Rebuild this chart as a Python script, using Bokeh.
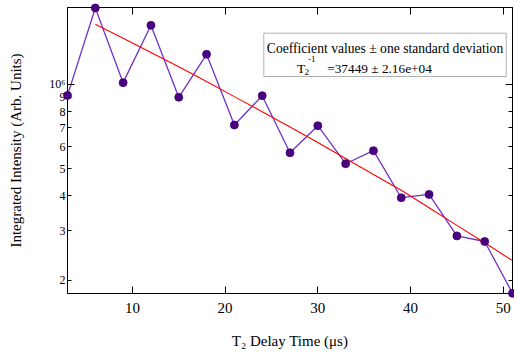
import math
from bokeh.plotting import figure
from bokeh.models import (FixedTicker, LogAxis, LinearAxis, Label, BoxAnnotation,
                          ColumnDataSource, Range1d)
from bokeh.embed import file_html
from bokeh.resources import INLINE

# ---------------- data ----------------
delay_us = [3, 6, 9, 12, 15, 18, 21, 24, 27, 30, 33, 36, 39, 42, 45, 48, 51]
intensity = [9.13e5, 1.873e6, 1.014e6, 1.624e6, 8.99e5, 1.280e6, 7.16e5, 9.11e5,
             5.70e5, 7.12e5, 5.21e5, 5.80e5, 3.94e5, 4.05e5, 2.88e5, 2.75e5, 1.797e5]

fit_us = [6, 9, 12, 15, 18, 21, 24, 27, 30, 33, 36, 39, 42, 45, 48, 51]
fit_intensity = [1.638e6, 1.460e6, 1.298e6, 1.155e6, 1.023e6, 9.04e5, 7.99e5, 7.05e5,
                 6.20e5, 5.44e5, 4.77e5, 4.19e5, 3.63e5, 3.14e5, 2.72e5, 2.35e5]

x_ticks = [10, 20, 30, 40, 50]
y_ticks = [2e5, 3e5, 4e5, 5e5, 6e5, 7e5, 8e5, 9e5, 1e6]
y_tick_labels = ["2", "3", "4", "5", "6", "7", "8", "9", "10\u2076"]
y_decade_ticks = [1e6]

legend_title = "Coefficient values \u00b1 one standard deviation"
legend_value = "=37449 \u00b1 2.16e+04"

FONT = "Liberation Serif"

# ---------------- figure ----------------
X0, X1 = 3, 51
Y0, Y1 = 1.794e5, 1.88e6
p = figure(width=514, height=354, y_axis_type="log",
           x_range=Range1d(X0, X1), y_range=Range1d(Y0, Y1),
           output_backend="svg", toolbar_location=None,
           min_border_left=67, min_border_right=2,
           min_border_top=7, min_border_bottom=61)
p.background_fill_color = "white"
p.border_fill_color = "white"
p.outline_line_color = "black"
p.outline_line_width = 1
p.grid.visible = False

# frame geometry (pixels) used to place annotations inside the frame
FL, FR, FT, FB = 67, 512, 7, 293
def px2x(px):
    return X0 + (px - FL) / (FR - FL) * (X1 - X0)
def py2y(py):
    ly0, ly1 = math.log10(Y0), math.log10(Y1)
    return 10 ** (ly1 - (py - FT) / (FB - FT) * (ly1 - ly0))

# bottom axis
xa = p.xaxis[0]
xa.ticker = FixedTicker(ticks=x_ticks)
xa.major_tick_in = 7
xa.major_tick_out = 0
xa.minor_tick_line_color = None
xa.axis_line_color = "black"
xa.major_tick_line_color = "black"
xa.major_label_text_font = FONT
xa.major_label_text_font_size = "15px"
xa.major_label_text_color = "black"
xa.major_label_standoff = 9
xa.axis_label = "T\u2082 Delay Time (\u03bcs)"
xa.axis_label_text_font = FONT
xa.axis_label_text_font_style = "normal"
xa.axis_label_text_font_size = "15px"
xa.axis_label_text_color = "black"
xa.axis_label_standoff = 17

# left axis
ya = p.yaxis[0]
ya.ticker = FixedTicker(ticks=y_ticks, minor_ticks=y_decade_ticks)
ya.major_label_overrides = {t: s for t, s in zip(y_ticks, y_tick_labels)}
ya.major_tick_in = 4
ya.major_tick_out = 0
ya.minor_tick_in = 7
ya.minor_tick_out = 0
ya.minor_tick_line_color = "black"
ya.major_tick_line_color = "black"
ya.axis_line_color = "black"
ya.major_label_text_font = FONT
ya.major_label_text_font_size = "12px"
ya.major_label_text_color = "black"
ya.major_label_standoff = 2
ya.axis_label = "Integrated Intensity (Arb. Units)"
ya.axis_label_text_font = FONT
ya.axis_label_text_font_style = "normal"
ya.axis_label_text_font_size = "15px"
ya.axis_label_text_color = "black"
ya.axis_label_standoff = 22

# mirrored right and top axes (ticks only, empty labels)
ra = LogAxis(ticker=FixedTicker(ticks=y_ticks, minor_ticks=y_decade_ticks))
ra.major_label_overrides = {t: "" for t in y_ticks}
ra.major_tick_in = 4
ra.major_tick_out = 0
ra.minor_tick_in = 7
ra.minor_tick_out = 0
ra.major_label_standoff = 0
ra.axis_line_color = "black"
p.add_layout(ra, "right")

ta = LinearAxis(ticker=FixedTicker(ticks=x_ticks))
ta.major_label_overrides = {t: "" for t in x_ticks}
ta.major_tick_in = 7
ta.major_tick_out = 0
ta.minor_tick_line_color = None
ta.major_label_standoff = 0
ta.axis_line_color = "black"
p.add_layout(ta, "above")

# ---------------- data marks ----------------
src = ColumnDataSource(dict(x=delay_us, y=intensity))
fit_src = ColumnDataSource(dict(x=fit_us, y=fit_intensity))
p.line("x", "y", source=src, line_color="#6E33C4", line_width=1.3)
p.scatter("x", "y", source=src, size=8, fill_color="#4B0082", line_color="#3F0070",
          line_width=0.8, level="overlay")
p.line("x", "y", source=fit_src, line_color="#FF0000", line_width=1.1)

# ---------------- coefficient box ----------------
p.add_layout(BoxAnnotation(left=px2x(263.3), right=px2x(505.7),
                           top=py2y(32.7), bottom=py2y(76),
                           fill_color="white", fill_alpha=1.0,
                           line_color="black", line_width=1, level="overlay"))
p.add_layout(Label(x=px2x(384.5), y=py2y(47.5), text=legend_title,
                   text_align="center", text_baseline="alphabetic",
                   text_font=FONT, text_font_size="13.6px", text_color="black",
                   level="overlay"))
p.add_layout(Label(x=px2x(296.5), y=py2y(68.3), text="T",
                   text_align="left", text_baseline="alphabetic",
                   text_font=FONT, text_font_size="13.5px", text_color="black",
                   level="overlay"))
p.add_layout(Label(x=px2x(304.0), y=py2y(71.5), text="2",
                   text_align="left", text_baseline="alphabetic",
                   text_font=FONT, text_font_size="9px", text_color="black",
                   level="overlay"))
p.add_layout(Label(x=px2x(307.5), y=py2y(58.5), text="-1",
                   text_align="left", text_baseline="alphabetic",
                   text_font=FONT, text_font_size="9px", text_color="black",
                   level="overlay"))
p.add_layout(Label(x=px2x(326.7), y=py2y(68.3), text=legend_value,
                   text_align="left", text_baseline="alphabetic",
                   text_font=FONT, text_font_size="13.3px", text_color="black",
                   level="overlay"))

open("out.html", "w").write(file_html(p, INLINE))
